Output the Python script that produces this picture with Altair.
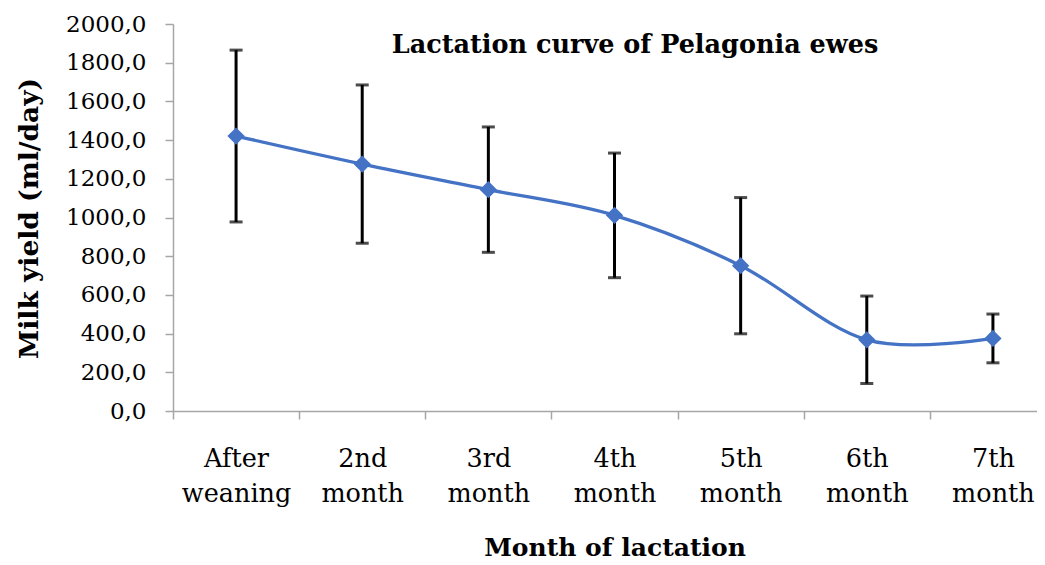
import altair as alt
import pandas as pd

months = ["After\nweaning", "2nd\nmonth", "3rd\nmonth", "4th\nmonth",
          "5th\nmonth", "6th\nmonth", "7th\nmonth"]
milk_mean = [1421, 1276, 1144, 1011, 751, 368, 375]
milk_sd = [444, 409, 324, 322, 352, 226, 126]
y_ticks = [0, 200, 400, 600, 800, 1000, 1200, 1400, 1600, 1800, 2000]
chart_title = "Lactation curve of Pelagonia ewes"

df = pd.DataFrame({"month": months, "mean": milk_mean, "sd": milk_sd})

FONT = "DejaVu Serif"
AXC = "#A6A6A6"

xenc = alt.X(
    "month:N", sort=months,
    scale=alt.Scale(type="band", range=[0, 883], paddingInner=0, paddingOuter=0),
    axis=alt.Axis(
        title="Month of lactation", labelExpr="split(datum.label, '\\n')",
        labelAngle=0, labelFont=FONT, labelFontSize=25.5, labelColor="black",
        labelLineHeight=35, labelBaseline="alphabetic", labelPadding=47,
        tickBand="extent", tickSize=8, tickColor=AXC, tickWidth=1.5,
        domainColor=AXC, domainWidth=1.5, grid=False,
        titleFont=FONT, titleFontSize=25, titleFontWeight="bold",
        titleColor="black", titleY=144, titleBaseline="alphabetic",
    ),
)

yaxis = alt.Axis(
    title="Milk yield (ml/day)", values=y_ticks,
    labelExpr="replace(format(datum.value, '.1f'), '.', ',')",
    labelFont=FONT, labelFontSize=23, labelColor="black", labelPadding=19,
    tickSize=8, tickColor=AXC, tickWidth=1.5, domainColor=AXC, domainWidth=1.5,
    grid=False, titleFont=FONT, titleFontSize=26.5, titleFontWeight="bold",
    titleColor="black", titleX=-136, titleY=194, titleAngle=-90,
    titleBaseline="alphabetic", titleAlign="center",
)
yscale = alt.Scale(domain=[0, 2000], nice=False)

base = alt.Chart(df).transform_calculate(
    upper="datum.mean + datum.sd", lower="datum.mean - datum.sd"
)

rules = base.mark_rule(color="black", strokeWidth=3).encode(
    x=xenc, y=alt.Y("lower:Q", scale=yscale, axis=yaxis), y2="upper:Q"
)
cap_hi = base.mark_tick(color="black", thickness=3, size=13).encode(
    x=xenc, y=alt.Y("upper:Q", scale=yscale, axis=yaxis)
)
cap_lo = base.mark_tick(color="black", thickness=3, size=13).encode(
    x=xenc, y=alt.Y("lower:Q", scale=yscale, axis=yaxis)
)
line = base.mark_line(color="#4472C4", strokeWidth=3.3, interpolate="cardinal").encode(
    x=xenc, y=alt.Y("mean:Q", scale=yscale, axis=yaxis)
)
pts = base.mark_point(shape="diamond", filled=True, color="#4472C4", size=300,
                      opacity=1, strokeWidth=0).encode(
    x=xenc, y=alt.Y("mean:Q", scale=yscale, axis=yaxis)
)
title = alt.Chart(pd.DataFrame({"t": [chart_title]})).mark_text(
    font=FONT, fontSize=25.5, fontWeight="bold", align="center",
    baseline="alphabetic", color="black"
).encode(text="t:N", x=alt.value(462), y=alt.value(29))

chart = alt.layer(rules, cap_hi, cap_lo, line, pts, title).properties(
    width=864, height=387,
    autosize=alt.AutoSizeParams(type="none"),
    padding={"left": 165, "top": 16, "right": 0, "bottom": 154},
).configure_view(stroke=None)

chart.save("out.html", embed_options={"renderer": "svg", "actions": False})
